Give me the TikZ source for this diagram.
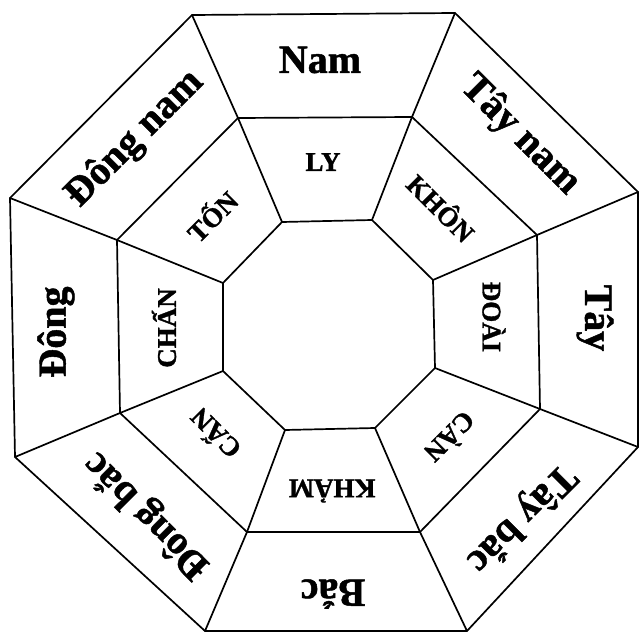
\documentclass[tikz,border=0pt]{standalone}
\usepackage{fontspec}
\setmainfont{Liberation Serif}[BoldFeatures={FakeBold=1.2}]
\begin{document}
\begin{tikzpicture}[x=1pt,y=-1pt,
  edge/.style={line width=1.7pt,line join=round,line cap=round},
  outerlab/.style={font=\bfseries\fontsize{40}{44}\selectfont,inner sep=0pt},
  innerlab/.style={font=\bfseries\fontsize{27}{30}\selectfont,inner sep=0pt}]
\useasboundingbox (0,0) rectangle (640,634);
% outer octagon
\coordinate (o1) at (192,15);
\coordinate (o2) at (455,13);
\coordinate (o3) at (638,192);
\coordinate (o4) at (638,447);
\coordinate (o5) at (467,631);
\coordinate (o6) at (205,631);
\coordinate (o7) at (15,457);
\coordinate (o8) at (10,198);
% middle octagon
\coordinate (m1) at (238,118);
\coordinate (m2) at (412,117);
\coordinate (m3) at (537,235);
\coordinate (m4) at (540,409);
\coordinate (m5) at (420,532);
\coordinate (m6) at (247,532);
\coordinate (m7) at (120,413);
\coordinate (m8) at (117,240);
% inner octagon
\coordinate (i1) at (282,222);
\coordinate (i2) at (372,220);
\coordinate (i3) at (433,280);
\coordinate (i4) at (435,368);
\coordinate (i5) at (375,428);
\coordinate (i6) at (285,430);
\coordinate (i7) at (223,371);
\coordinate (i8) at (223,283);
\draw[edge] (o1)--(o2)--(o3)--(o4)--(o5)--(o6)--(o7)--(o8)--cycle;
\draw[edge] (m1)--(m2)--(m3)--(m4)--(m5)--(m6)--(m7)--(m8)--cycle;
\draw[edge] (i1)--(i2)--(i3)--(i4)--(i5)--(i6)--(i7)--(i8)--cycle;
\foreach \k in {1,...,8}{\draw[edge] (o\k)--(m\k)--(i\k);}
% outer labels
\node[outerlab] (nam) at (320,60) {Nam};
\node[outerlab,rotate=-45] (taynam) at (520,135) {Tây nam};
\node[outerlab,rotate=-90] (tay) at (595,318) {Tây};
\node[outerlab,rotate=-135] (taybac) at (521,518) {Tây bắc};
\node[outerlab,rotate=180] (bac) at (333,594) {Bắc};
\node[outerlab,rotate=135] (dongbac) at (147,515) {Đông bắc};
\node[outerlab,rotate=90] (dong) at (56,332) {Đông};
\node[outerlab,rotate=45] (dongnam) at (135,139) {Đông nam};
% inner labels
\node[innerlab] (ly) at (323,162) {LY};
\node[innerlab,rotate=-45] (khon) at (442,207) {KHÔN};
\node[innerlab,rotate=-90] (doai) at (494,317) {ĐOÀI};
\node[innerlab,rotate=-135] (can) at (451,438) {CÀN};
\node[innerlab,rotate=180] (kham) at (332,491) {KHẢM};
\node[innerlab,rotate=135] (cann) at (214,435) {CẤN};
\node[innerlab,rotate=90] (chan) at (164,328) {CHẤN};
\node[innerlab,rotate=45] (ton) at (211,215) {TỐN};
\end{tikzpicture}
\end{document}
